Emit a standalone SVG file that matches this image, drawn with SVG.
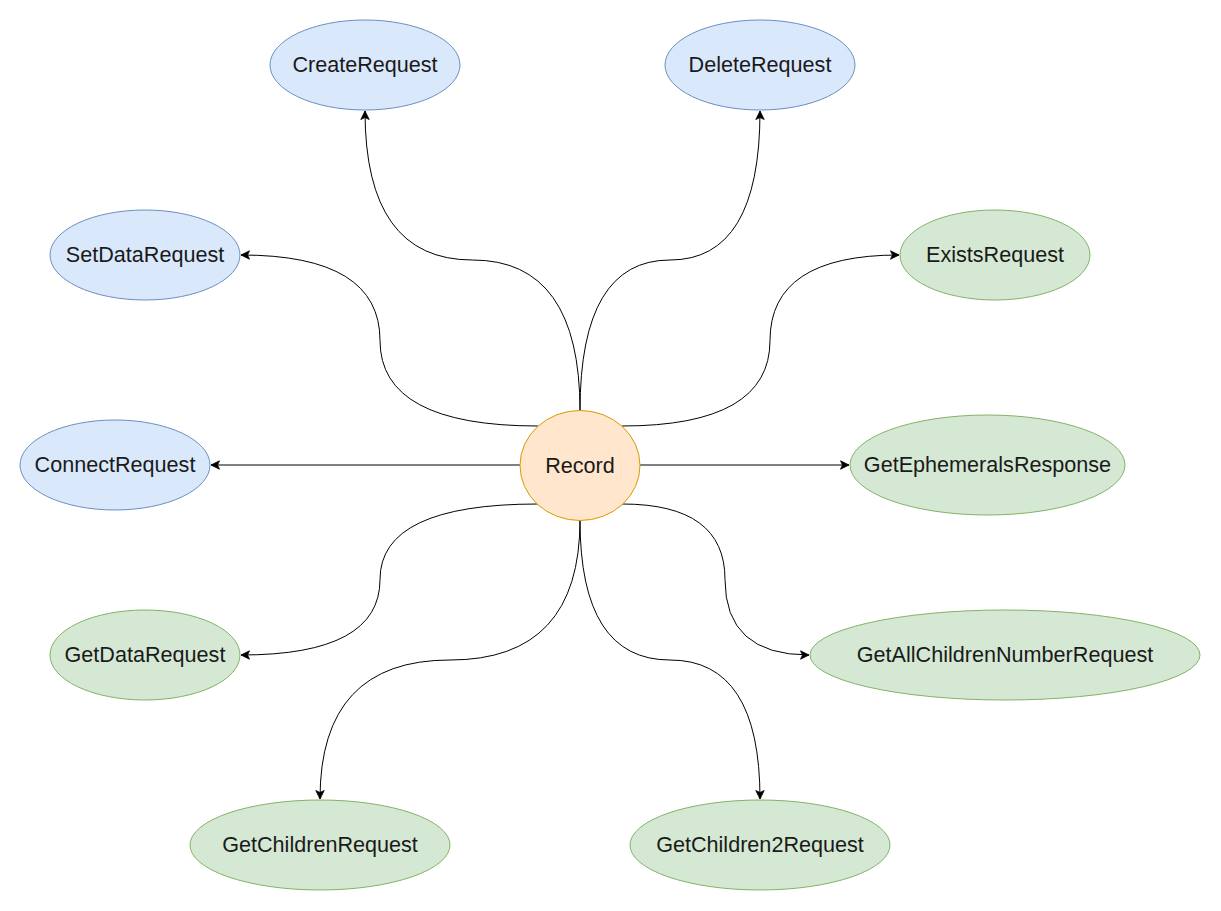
<svg xmlns="http://www.w3.org/2000/svg" width="1221" height="911" viewBox="0 0 1221 911">
<style>
.blue{fill:#dae8fc;stroke:#6c8ebf;stroke-width:1}
.green{fill:#d5e8d4;stroke:#82b366;stroke-width:1}
.orange{fill:#ffe6cc;stroke:#d79b00;stroke-width:1}
.lbl{font-family:"Liberation Sans",Arial,sans-serif;font-size:21.6px;fill:#1a1a1a;text-anchor:middle}
.edge{fill:none;stroke:#000;stroke-width:1;marker-end:url(#arrow)}
</style>
<defs>
<marker id="arrow" viewBox="-10 -6 12 12" refX="0" refY="0" markerWidth="12" markerHeight="12" markerUnits="userSpaceOnUse" orient="auto">
<path d="M0,0 L-8.5,-4.2 L-6.5,0 L-8.5,4.2 Z" fill="#000" stroke="#000" stroke-width="0.8" stroke-linejoin="miter"/>
</marker>
</defs>
<rect width="1221" height="911" fill="#fff"/>
<g id="connectors">
<path class="edge" d="M580 411 Q580 260 472.5 260 Q365 260 365 111"/>
<path class="edge" d="M580 411 Q580 260 670 260 Q760 260 760 111"/>
<path class="edge" d="M538 426 Q380 426 380 340.5 Q380 255 241 255"/>
<path class="edge" d="M622 426 Q770 426 770 340.5 Q770 255 899 255"/>
<path class="edge" d="M520 465 L211 465"/>
<path class="edge" d="M640 465 L849 465"/>
<path class="edge" d="M538 504 Q380 504 380 579.5 Q380 655 241 655"/>
<path class="edge" d="M622 504 Q725 504 725 579.5 Q725 655 809 655"/>
<path class="edge" d="M580 520 Q580 660 450 660 Q320 660 320 799"/>
<path class="edge" d="M580 520 Q580 660 670 660 Q760 660 760 799"/>
</g>
<g id="record"><ellipse class="orange" cx="580" cy="465.5" rx="60" ry="55"/><text class="lbl" x="580" y="472.5">Record</text></g>
<g id="createRequest"><ellipse class="blue" cx="365" cy="65" rx="95" ry="45"/><text class="lbl" x="365" y="72">CreateRequest</text></g>
<g id="deleteRequest"><ellipse class="blue" cx="760" cy="65" rx="95" ry="45"/><text class="lbl" x="760" y="72">DeleteRequest</text></g>
<g id="setDataRequest"><ellipse class="blue" cx="145" cy="255" rx="95" ry="45"/><text class="lbl" x="145" y="262">SetDataRequest</text></g>
<g id="existsRequest"><ellipse class="green" cx="995" cy="255" rx="95" ry="45"/><text class="lbl" x="995" y="262">ExistsRequest</text></g>
<g id="connectRequest"><ellipse class="blue" cx="115" cy="465" rx="95" ry="45"/><text class="lbl" x="115" y="472">ConnectRequest</text></g>
<g id="getEphemeralsResponse"><ellipse class="green" cx="987.5" cy="465" rx="137.5" ry="50"/><text class="lbl" x="987.5" y="472">GetEphemeralsResponse</text></g>
<g id="getDataRequest"><ellipse class="green" cx="145" cy="655" rx="95" ry="45"/><text class="lbl" x="145" y="662">GetDataRequest</text></g>
<g id="getAllChildrenNumberRequest"><ellipse class="green" cx="1005" cy="655" rx="195" ry="45"/><text class="lbl" x="1005" y="662">GetAllChildrenNumberRequest</text></g>
<g id="getChildrenRequest"><ellipse class="green" cx="320" cy="845" rx="130" ry="45"/><text class="lbl" x="320" y="852">GetChildrenRequest</text></g>
<g id="getChildren2Request"><ellipse class="green" cx="760" cy="845" rx="130" ry="45"/><text class="lbl" x="760" y="852">GetChildren2Request</text></g>
</svg>
